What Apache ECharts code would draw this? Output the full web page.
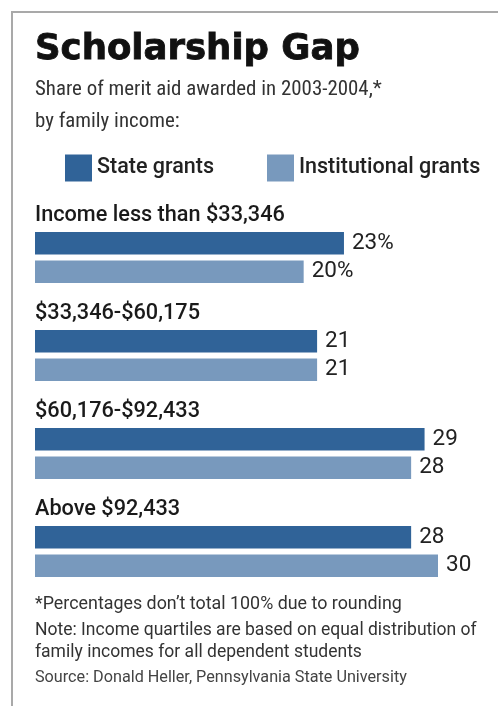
<!DOCTYPE html>
<html>
<head>
<meta charset="utf-8">
<style>
  html, body { margin: 0; padding: 0; background: #fff; }
  #chart { width: 498px; height: 706px; }
</style>
<script src="https://cdn.jsdelivr.net/npm/echarts@6/dist/echarts.min.js"></script>
</head>
<body>
<div id="chart"></div>
<script>
// data
const categories = ['Income less than $33,346', '$33,346-$60,175', '$60,176-$92,433', 'Above $92,433']
const stateGrants = [23, 21, 29, 28]
const institutionalGrants = [20, 21, 28, 30]
const seriesNames = ['State grants', 'Institutional grants']

const title = 'Scholarship Gap'
const subtitle = ['Share of merit aid awarded in 2003-2004,*', 'by family income:']
const notes = [
  '*Percentages don\u2019t total 100% due to rounding',
  'Note: Income quartiles are based on equal distribution of',
  'family incomes for all dependent students'
]
const source = 'Source: Donald Heller, Pennsylvania State University'

const sans = 'Roboto, sans-serif'

// pick a font size so a line of static text spans the wanted width
const ctx = document.createElement('canvas').getContext('2d')
const fitFont = (text, pre, family, width) => {
  ctx.font = pre + ' 100px ' + family
  const size = (100 * width) / ctx.measureText(text).width
  return pre + ' ' + size.toFixed(2) + 'px ' + family
}

const chart = echarts.init(document.getElementById('chart'))

// first row carries the % sign
const labelFmt = p => (p.dataIndex === 0 ? p.value + '%' : String(p.value))

const barLabel = {
  show: true,
  position: 'right',
  distance: 8,
  formatter: labelFmt,
  color: '#222',
  fontSize: 22.5,
  fontFamily: sans
}

const textEl = (text, y, font, fill, extra) => ({
  type: 'text',
  x: 35,
  y: y,
  style: Object.assign({ text: text, font: font, fill: fill, align: 'left', verticalAlign: 'middle' }, extra || {})
})

const option = {
  animation: false,
  backgroundColor: '#fff',
  legend: {
    left: 65,
    top: 154.5,
    padding: 0,
    itemWidth: 27,
    itemHeight: 27,
    itemGap: 53,
    icon: 'rect',
    textStyle: { fontSize: 21.5, fontWeight: 500, fontFamily: sans, color: '#222' },
    data: seriesNames
  },
  grid: {
    left: 35,
    top: 208.5,
    width: 403,
    height: 392
  },
  xAxis: {
    type: 'value',
    min: 0,
    max: 30,
    show: false
  },
  yAxis: {
    type: 'category',
    inverse: true,
    data: categories,
    axisLine: { show: false },
    axisTick: { show: false },
    splitLine: { show: false },
    axisLabel: {
      inside: true,
      margin: 0,
      align: 'left',
      verticalAlign: 'middle',
      // push the group name above its pair of bars
      formatter: v => '{a|' + v + '}\n{b| }',
      rich: {
        a: { fontSize: 21.7, lineHeight: 22, fontWeight: 500, fontFamily: sans, color: '#1a1a1a' },
        b: { fontSize: 10, lineHeight: 83 }
      }
    }
  },
  series: [
    {
      name: seriesNames[0],
      type: 'bar',
      data: stateGrants,
      barWidth: 22.5,
      barGap: '27%',
      itemStyle: { color: '#306398' },
      label: barLabel
    },
    {
      name: seriesNames[1],
      type: 'bar',
      data: institutionalGrants,
      barWidth: 22.5,
      itemStyle: { color: '#7899bd' },
      label: barLabel
    }
  ],
  graphic: [
    // frame, open on the right and bottom
    {
      type: 'polyline',
      shape: { points: [[12, 706], [12, 12], [498, 12]] },
      style: { stroke: '#a9a9a9', lineWidth: 2, fill: null }
    },
    textEl(title, 49.5, fitFont(title, 'bold', "'DejaVu Sans'", 325), '#111', { stroke: '#111', lineWidth: 0.8 }),
    textEl(subtitle[0], 90, fitFont(subtitle[0], 'condensed', sans, 347), '#333'),
    textEl(subtitle[1], 122, fitFont(subtitle[0], 'condensed', sans, 347), '#333'),
    textEl(notes[0], 605, fitFont(notes[0], 'normal', sans, 367), '#333'),
    textEl(notes[1], 631, fitFont(notes[1], 'normal', sans, 442), '#333'),
    textEl(notes[2], 653, fitFont(notes[1], 'normal', sans, 442), '#333'),
    textEl(source, 678, fitFont(source, 'normal', sans, 372), '#444')
  ]
}

chart.setOption(option)
window.addEventListener('resize', () => chart.resize())
</script>
</body>
</html>
